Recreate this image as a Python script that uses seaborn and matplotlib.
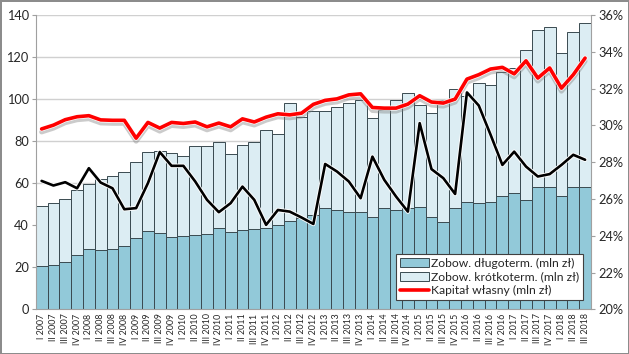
import numpy as np
import pandas as pd
import seaborn as sns
import matplotlib.pyplot as plt
import matplotlib.patheffects as pe
from matplotlib.patches import Patch
from matplotlib.lines import Line2D
from matplotlib.ticker import FixedLocator, FuncFormatter

# quarters I 2007 .. III 2018
years = [2007, 2008, 2009, 2010, 2011, 2012, 2013, 2014, 2015, 2016, 2017, 2018]
romans = ["I", "II", "III", "IV"]
quarters = [f"{r} {y}" for y in years for r in romans][:47]

# mln zl
long_term = [20.6, 20.9, 22.4, 25.6, 28.9, 28.1, 28.9, 29.9, 33.8, 37.1, 36.5, 34.3,
             34.7, 35.3, 35.7, 38.6, 36.7, 37.5, 38.2, 38.6, 40.0, 41.9, 43.3, 44.8,
             48.1, 47.1, 46.5, 46.5, 44.1, 48.1, 47.4, 48.1, 48.6, 44.1, 41.7, 48.4,
             51.2, 50.5, 51.2, 54.1, 55.2, 51.9, 58.1, 58.1, 54.0, 58.1, 58.1]
short_term = [28.6, 29.7, 30.0, 31.0, 30.6, 33.8, 34.7, 35.4, 36.2, 37.8, 38.7, 40.0,
              38.3, 42.5, 42.1, 41.1, 37.1, 40.7, 41.5, 46.7, 43.3, 56.1, 48.2, 49.4,
              46.1, 49.1, 51.6, 53.2, 46.7, 46.9, 52.4, 54.8, 48.6, 49.4, 58.0, 56.4,
              50.3, 57.1, 55.5, 59.0, 59.8, 71.4, 74.6, 76.1, 67.9, 73.7, 78.1]
equity = [85.8, 87.6, 90.2, 91.6, 92.1, 90.1, 89.9, 89.9, 81.4, 88.9, 86.2, 88.9,
          88.4, 89.1, 86.8, 88.6, 86.8, 90.6, 89.1, 91.4, 93.0, 92.5, 93.3, 97.5,
          99.4, 100.1, 102.0, 102.5, 96.0, 95.7, 95.7, 97.6, 101.6, 98.6, 98.1, 100.0,
          109.5, 111.6, 114.3, 115.1, 112.0, 118.2, 110.0, 114.8, 105.2, 111.6, 119.5]
# right axis, %
ratio = [26.98, 26.73, 26.91, 26.58, 27.67, 26.89, 26.58, 25.44, 25.50, 26.86, 28.55, 27.80,
         27.80, 26.95, 25.95, 25.28, 25.77, 26.67, 25.95, 24.59, 25.40, 25.31, 24.99, 24.64,
         27.90, 27.49, 26.95, 26.04, 28.30, 27.04, 26.13, 25.31, 30.12, 27.62, 27.13, 26.27,
         31.79, 31.08, 29.49, 27.85, 28.57, 27.76, 27.22, 27.35, 27.85, 28.40, 28.13]

df = pd.DataFrame({"q": quarters, "long": long_term, "short": short_term,
                   "equity": equity, "ratio": ratio})
df["total"] = df["long"] + df["short"]
df["pos"] = np.arange(len(df))

sns.set_style("white")
plt.rcParams["font.family"] = ["Lato", "DejaVu Sans"]

dark_c = "#92c9d9"
light_c = "#dcedf3"
edge_c = "#3a4a50"
txt_c = "#262626"

fig = plt.figure(figsize=(6.29, 3.54), dpi=100)
fig.patch.set_edgecolor("#8c8c8c")
fig.patch.set_linewidth(2)
ax = fig.add_axes([35.7 / 629, 1 - 309.3 / 354, (591 - 35.7) / 629, (309.3 - 15) / 354])

sns.barplot(data=df, x="pos", y="total", color=light_c, width=1.0, edgecolor=edge_c,
            linewidth=0.7, saturation=1, ax=ax, native_scale=True, zorder=2)
sns.barplot(data=df, x="pos", y="long", color=dark_c, width=1.0, edgecolor=edge_c,
            linewidth=0.7, saturation=1, ax=ax, native_scale=True, zorder=2)
sns.lineplot(data=df, x="pos", y="equity", color="#ff0000", linewidth=2.6, ax=ax, zorder=4,
             path_effects=[pe.SimpleLineShadow(offset=(0, -2.2), shadow_color="#7f7f7f", alpha=0.4,
                                               linewidth=3.5),
                           pe.Stroke(linewidth=3.6, foreground="white"), pe.Normal()])

ax.set_xlim(-0.5, len(df) - 0.5)
ax.set_ylim(0, 140)
ax.set_yticks(range(0, 141, 20))
ax.yaxis.grid(True, color="#d0d0d0", linewidth=1)
ax.set_axisbelow(True)
ax.set_xlabel("")
ax.set_ylabel("")
ax.set_xticks(df["pos"])
ax.set_xticklabels(quarters, rotation=90, fontsize=6.4, color=txt_c)
ax.xaxis.set_minor_locator(FixedLocator(np.arange(-0.5, len(df), 1)))
ax.tick_params(axis="x", which="major", length=0, pad=3)
ax.tick_params(axis="x", which="minor", length=3, color="#a0a0a0", width=0.8)
ax.tick_params(axis="y", length=3, color="#a0a0a0", labelsize=9.2, colors=txt_c, pad=2)
for s in ["top", "right"]:
    ax.spines[s].set_visible(False)
for s in ["left", "bottom"]:
    ax.spines[s].set_color("#a0a0a0")
    ax.spines[s].set_linewidth(0.8)

ax2 = ax.twinx()
sns.lineplot(data=df, x="pos", y="ratio", color="black", linewidth=1.9, ax=ax2, zorder=3,
             path_effects=[pe.Stroke(linewidth=3.2, foreground="white"), pe.Normal()])
ax2.set_ylim(20, 36)
ax2.set_yticks(range(20, 37, 2))
ax2.yaxis.set_major_formatter(FuncFormatter(lambda v, p: f"{v:.0f}%"))
ax2.set_ylabel("")
ax2.tick_params(axis="y", length=3, color="#a0a0a0", labelsize=9.2, colors=txt_c, pad=2)
for s in ["top", "left", "bottom"]:
    ax2.spines[s].set_visible(False)
ax2.spines["right"].set_color("#a0a0a0")
ax2.spines["right"].set_linewidth(0.8)

handles = [Patch(facecolor=dark_c, edgecolor=edge_c, linewidth=0.7),
           Patch(facecolor=light_c, edgecolor=edge_c, linewidth=0.7),
           Line2D([0], [0], color="#ff0000", linewidth=2.6)]
labels = ["Zobow. długoterm. (mln zł)", "Zobow. krótkoterm. (mln zł)", "Kapitał własny (mln zł)"]
leg = ax2.legend(handles, labels, loc="lower right", bbox_to_anchor=(0.986, 0.03),
                 fontsize=8.7, frameon=True, fancybox=False, framealpha=1,
                 edgecolor="#404040", borderpad=0.35, labelspacing=0.22,
                 handlelength=2.4, handleheight=0.8, handletextpad=0.15, borderaxespad=0)
leg.get_frame().set_linewidth(0.8)
for t in leg.get_texts():
    t.set_color(txt_c)

fig.savefig("out.png", dpi=100)
